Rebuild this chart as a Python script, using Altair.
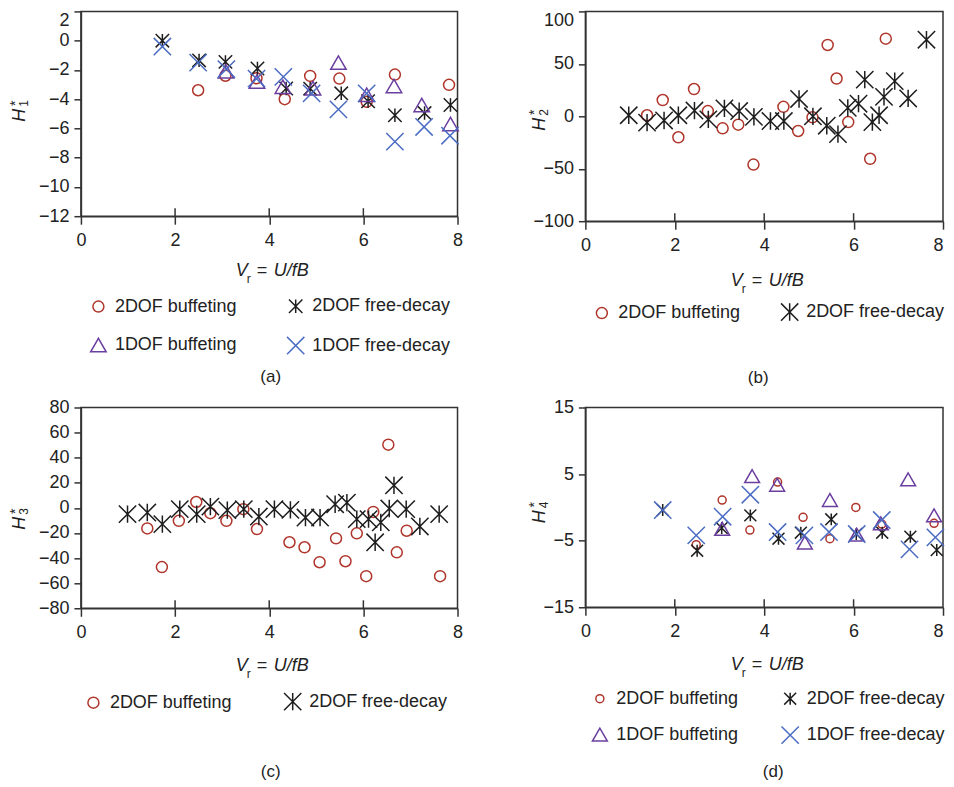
import altair as alt
import pandas as pd

FONT = "Liberation Sans"
TXT = "#222222"
AX = "#333333"

SERIES = ["2DOF buffeting", "2DOF free-decay", "1DOF buffeting", "1DOF free-decay"]
COLORS = ["#b0352b", "#1e1e1e", "#6b3fa0", "#4a6cc3"]
STAR = "M-1,-1L1,1M-1,1L1,-1M0,-1L0,1"
XSH = "M-1,-1L1,1M-1,1L1,-1"
SHAPES = ["circle", STAR, "triangle-up", XSH]

X_TICKS = [0, 2, 4, 6, 8]
X_INNER = [2, 4, 6]

# ---------------- panel (a) H1* ----------------
a_2b_x = [2.49, 3.07, 3.73, 4.33, 4.87, 5.49, 6.07, 6.67, 7.82]
a_2b_y = [-3.39, -2.4, -2.57, -4.0, -2.41, -2.59, -4.18, -2.32, -3.02]
a_2f_x = [1.73, 2.51, 3.07, 3.75, 4.36, 4.87, 5.53, 6.10, 6.67, 7.30, 7.85]
a_2f_y = [0.0, -1.35, -1.45, -1.9, -3.27, -3.28, -3.6, -4.14, -5.1, -4.95, -4.4]
a_1b_x = [3.08, 3.74, 4.29, 4.93, 5.47, 6.07, 6.65, 7.24, 7.85]
a_1b_y = [-2.1, -2.8, -3.15, -3.25, -1.5, -3.7, -3.1, -4.4, -5.7]
a_1f_x = [1.73, 2.49, 3.09, 3.73, 4.30, 4.90, 5.47, 6.07, 6.67, 7.29, 7.84]
a_1f_y = [-0.4, -1.5, -1.95, -2.6, -2.48, -3.6, -4.7, -3.6, -6.9, -5.9, -6.5]
a_yticks = [2, 0, -2, -4, -6, -8, -10, -12]

# ---------------- panel (b) H2* ----------------
b_2b_x = [1.38, 1.73, 2.08, 2.43, 2.74, 3.07, 3.42, 3.76, 4.43, 4.76, 5.08, 5.42, 5.62, 5.88, 6.37, 6.72]
b_2b_y = [1, 15.5, -20, 26, 5, -11.5, -8, -46, 9, -14, -1, 68, 36, -5.5, -40.5, 74]
b_2f_x = [0.97, 1.38, 1.76, 2.08, 2.44, 2.75, 3.11, 3.44, 3.77, 4.14, 4.44, 4.78,
          5.09, 5.40, 5.65, 5.87, 6.11, 6.25, 6.42, 6.57, 6.68, 6.92, 7.22, 7.63]
b_2f_y = [1, -6, -4, 1, 5.5, -3, 7.5, 5, -0.5, -4.5, -4.5, 16.5,
          0, -9, -17, 8, 12, 35, -5.5, 1, 18.5, 33.5, 17, 73]
b_yticks = [100, 50, 0, -50, -100]

# ---------------- panel (c) H3* ----------------
c_2b_x = [1.41, 1.72, 2.08, 2.45, 2.75, 3.09, 3.45, 3.74, 4.43, 4.75, 5.07, 5.42, 5.62, 5.86,
          6.06, 6.21, 6.53, 6.71, 6.92, 7.63]
c_2b_y = [-16.4, -47.2, -10.3, 4.7, -4.2, -10.3, -1, -16.9, -27.4, -31.4, -43.3, -24.3, -42.5, -20.3,
          -54.4, -3.2, 50.4, -35.4, -18.2, -54.4]
c_2f_x = [0.99, 1.41, 1.73, 2.10, 2.46, 2.75, 3.11, 3.46, 3.78, 4.11, 4.45, 4.77,
          5.08, 5.40, 5.65, 5.86, 6.11, 6.25, 6.37, 6.55, 6.65, 6.91, 7.20, 7.61]
c_2f_y = [-5, -3.7, -12.9, -1, -5, 1, -1.8, -1, -6.9, -1, -1.6, -7.7,
          -7.7, 2.9, 4.2, -9, -9, -27.4, -11.6, -0.5, 18, -1, -14.8, -5]
c_yticks = [80, 60, 40, 20, 0, -20, -40, -60, -80]

# ---------------- panel (d) H4* ----------------
d_2b_x = [2.48, 3.06, 3.68, 4.30, 4.87, 5.47, 6.05, 6.63, 7.80]
d_2b_y = [-5.6, 1.1, -3.4, 3.8, -1.5, -4.7, 0.0, -2.5, -2.4]
d_2f_x = [1.73, 2.50, 3.05, 3.69, 4.32, 4.82, 5.50, 6.06, 6.64, 7.27, 7.86]
d_2f_y = [-0.4, -6.5, -3.1, -1.2, -4.7, -3.8, -1.8, -4.0, -3.8, -4.4, -6.4]
d_1b_x = [3.06, 3.73, 4.29, 4.91, 5.47, 6.07, 6.61, 7.22, 7.80]
d_1b_y = [-3.2, 4.7, 3.4, -5.3, 1.1, -4.1, -2.4, 4.2, -1.2]
d_1f_x = [1.73, 2.48, 3.07, 3.69, 4.30, 4.90, 5.45, 6.07, 6.63, 7.25, 7.83]
d_1f_y = [-0.4, -4.2, -1.4, 1.9, -3.7, -4.2, -3.7, -4.0, -1.9, -6.3, -4.5]
d_yticks = [15, 5, -5, -15]


def frame(pairs):
    rows = []
    for name, xs, ys in pairs:
        for xv, yv in zip(xs, ys):
            rows.append({"x": xv, "y": yv, "series": name})
    return pd.DataFrame(rows)


def txt(s, x, y, size=18, italic=False, angle=0, align="left", baseline="middle"):
    return alt.Chart(alt.Data(values=[{}])).mark_text(
        text=s, font=FONT, fontSize=size, fontStyle="italic" if italic else "normal",
        angle=angle, align=align, baseline=baseline, color=TXT,
    ).encode(x=alt.value(x), y=alt.value(y))


def panel(pairs, n_series, W, H, ydom, yticks, sub, hxy, leg_xy, col_pad, row_pad,
          cap, cap_xy, xt_y, circle_size, top_flush, right_col):
    df = frame(pairs)
    names = SERIES[:n_series]
    sizes = [circle_size, 300, 190, 300][:n_series]
    leg = alt.Legend(
        orient="none", legendX=leg_xy[0], legendY=leg_xy[1], columns=2, direction="horizontal",
        title=None, labelFont=FONT, labelFontSize=18, labelColor=TXT, symbolSize=150,
        symbolStrokeWidth=1.5, columnPadding=col_pad, rowPadding=row_pad,
        labelOffset=7, padding=0, labelLimit=300,
    )
    xscale = alt.Scale(domain=[0, 8], nice=False, zero=False)
    xargs = dict(values=X_TICKS, tickSize=8, labelPadding=7, title=None, format="d",
                 labelFlush=False)
    if right_col:
        xargs["labelAlign"] = {
            "condition": {"test": "datum.value == 8", "value": "right"},
            "value": "center",
        }
    xaxis = alt.Axis(**xargs)
    yargs = dict(values=yticks, tickSize=7, labelPadding=5, title=None, format="d")
    if top_flush:
        yargs["labelBaseline"] = {
            "condition": {"test": f"datum.value == {ydom[1]}", "value": "top"},
            "value": "middle",
        }
    yaxis = alt.Axis(**yargs)
    yscale = alt.Scale(domain=ydom, nice=False, zero=False)

    pts = alt.Chart(df).mark_point(filled=False, strokeWidth=1.5, opacity=1).encode(
        x=alt.X("x:Q", scale=xscale, axis=xaxis),
        y=alt.Y("y:Q", scale=yscale, axis=yaxis),
        color=alt.Color("series:N", scale=alt.Scale(domain=names, range=COLORS[:n_series]), legend=leg),
        shape=alt.Shape("series:N", scale=alt.Scale(domain=names, range=SHAPES[:n_series]), legend=leg),
        size=alt.Size("series:N", scale=alt.Scale(domain=names, range=sizes), legend=None),
    )
    ticks = alt.Chart(pd.DataFrame({"x": X_INNER})).mark_rule(color=AX, strokeWidth=1.5).encode(
        x=alt.X("x:Q", scale=xscale, axis=xaxis),
        y=alt.value(H - 8), y2=alt.value(H),
    )
    hx, hy = hxy
    cx = W / 2
    layers = [
        ticks, pts,
        txt("H", hx, hy, size=18, italic=True, angle=270, align="center"),
        txt("*", hx - 4.5, hy - 12, size=14, angle=270, align="center"),
        txt(sub, hx + 4, hy - 12, size=12, angle=270, align="center"),
        txt("V", cx - 33.5, H + xt_y, italic=True),
        txt("r", cx - 22.5, H + xt_y + 8, size=12),
        txt("=", cx - 12.5, H + xt_y),
        txt("U/fB", cx + 4.5, H + xt_y, italic=True),
        txt(cap, cap_xy[0], cap_xy[1], size=17, align="center"),
    ]
    return alt.layer(*layers).properties(width=W, height=H).resolve_scale(
        color="independent", shape="independent", size="independent")


pa = panel([(SERIES[0], a_2b_x, a_2b_y), (SERIES[1], a_2f_x, a_2f_y),
            (SERIES[2], a_1b_x, a_1b_y), (SERIES[3], a_1f_x, a_1f_y)],
           4, 377, 205, [-12, 2], a_yticks, "1", (-60.5, 104), (8, 286), 46.5, 17,
           "(a)", (190, 366), 55, 121, True, False)
pb = panel([(SERIES[0], b_2b_x, b_2b_y), (SERIES[1], b_2f_x, b_2f_y)],
           2, 358, 210, [-100, 100], b_yticks, "2", (-45.5, 113), (7, 291), 37, 16,
           "(b)", (173, 366.5), 59.5, 121, True, True)
pc = panel([(SERIES[0], c_2b_x, c_2b_y), (SERIES[1], c_2f_x, c_2f_y)],
           2, 377, 201, [-80, 80], c_yticks, "3", (-60.5, 116), (3, 284.5), 48.5, 16,
           "(c)", (190, 365), 57.5, 121, False, False)
pd_ = panel([(SERIES[0], d_2b_x, d_2b_y), (SERIES[1], d_2f_x, d_2f_y),
             (SERIES[2], d_1b_x, d_1b_y), (SERIES[3], d_1f_x, d_1f_y)],
            4, 358, 200, [-15, 15], d_yticks, "4", (-45.5, 109.5), (5, 282.5), 39.5, 15,
            "(d)", (188, 364.5), 58, 64, False, True)

chart = alt.concat(
    pa, pb, pc, pd_, columns=2, spacing={"row": 186.5, "column": 128}, bounds="flush"
).resolve_scale(
    color="independent", shape="independent", size="independent"
).properties(
    padding={"left": 0, "top": 1, "right": -2, "bottom": 0}
).configure_view(stroke=AX, strokeWidth=1.5).configure_axis(
    labelFont=FONT, labelFontSize=18, labelColor=TXT, domainColor=AX, tickColor=AX,
    domainWidth=1.5, tickWidth=1.5, grid=False,
)

chart.save("out.html", embed_options={"renderer": "svg", "actions": False})
